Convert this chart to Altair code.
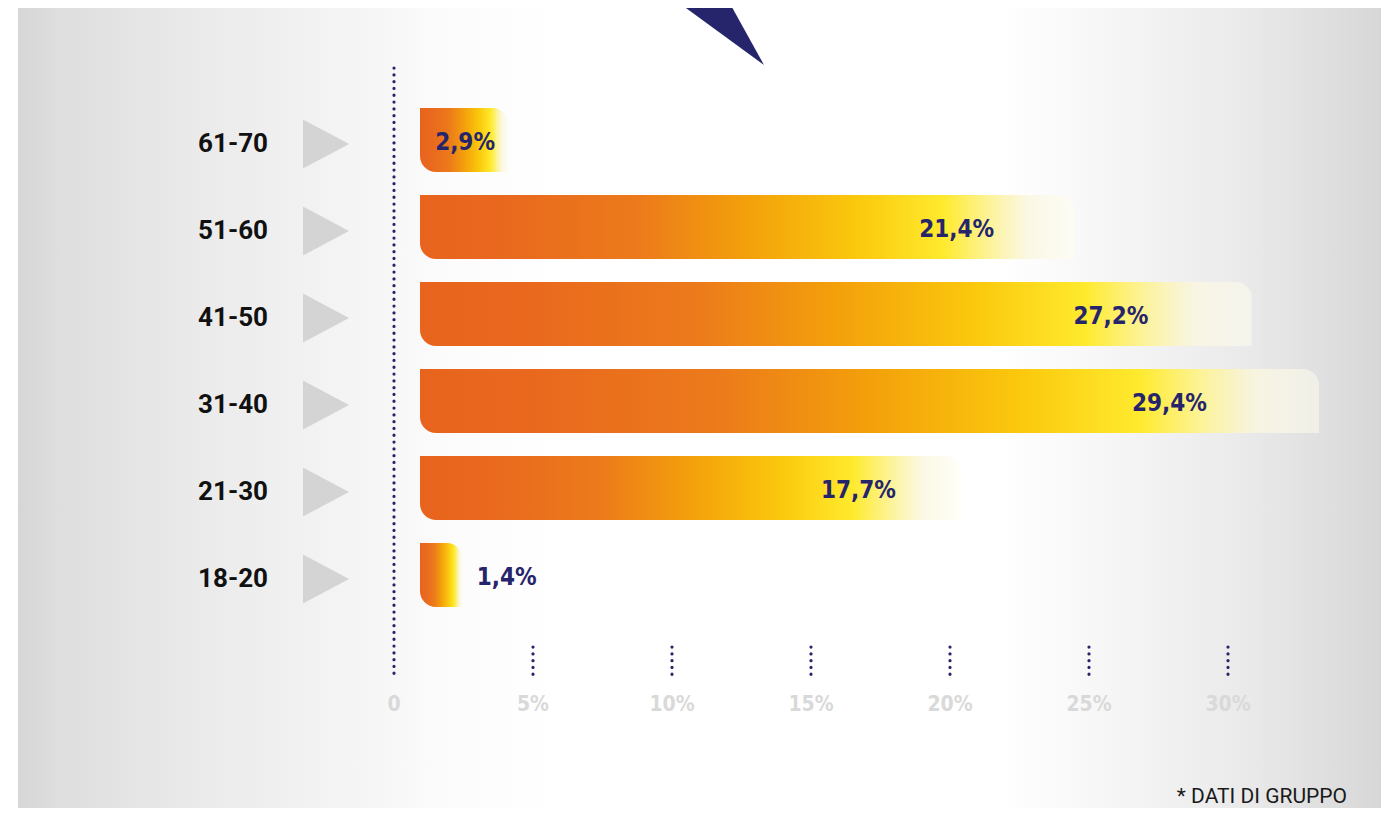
import altair as alt
import pandas as pd

# ---- data ----
categories = ["61-70", "51-60", "41-50", "31-40", "21-30", "18-20"]
shares = [2.9, 21.4, 27.2, 29.4, 17.7, 1.4]
tick_values = [0, 5, 10, 15, 20, 25, 30]
tick_labels = ["0", "5%", "10%", "15%", "20%", "25%", "30%"]
footnote = "* DATI DI GRUPPO"

# ---- layout / style ----
W, H = 1381, 800
PX_PER_UNIT = 27.8
ZERO_PX = 386
x_domain = [-ZERO_PX / PX_PER_UNIT, (W - ZERO_PX) / PX_PER_UNIT]
NAVY = "#26256b"
COND = "Liberation Sans Narrow, DejaVu Sans Condensed, Roboto Condensed, Roboto, sans-serif"

df = pd.DataFrame({"cat": categories, "share": shares})
df["label"] = [f"{v:.1f}".replace(".", ",") + "%" for v in shares]
ticks = pd.DataFrame({"t": tick_values, "lab": tick_labels})
one = pd.DataFrame({"a": [0]})

x_scale = alt.Scale(domain=x_domain, nice=False, zero=False)
y_scale = alt.Scale(domain=categories, range=[88.5, 610.5],
                    paddingInner=0.2644, paddingOuter=0.1322)
Y = alt.Y("cat:N", scale=y_scale, axis=None)


def grad(stops):
    return alt.Gradient(gradient="linear", x1=0, x2=1, y1=0, y2=0,
                        stops=[alt.GradientStop(offset=o, color=c) for o, c in stops])


bg_gradient = grad([(0, "#d6d6d6"), (0.03, "#dedede"), (0.13, "#eaeaea"),
                    (0.24, "#f4f4f4"), (0.32, "#fcfcfc"), (0.4, "#ffffff"),
                    (0.72, "#ffffff"), (0.8, "#f6f6f6"), (0.9, "#eaeaea"),
                    (0.97, "#dddddd"), (1, "#d7d7d7")])

bar_gradient = grad([(0, "#e8641e"), (0.12, "#e9681e"), (0.33, "#ec7a1b"),
                     (0.5, "#f3a00b"), (0.67, "#fbc90d"), (0.8, "#ffea2e"),
                     (0.86, "#fdf28a"), (0.93, "rgba(250,246,222,0.8)"),
                     (1, "rgba(255,253,240,0.5)")])

background = alt.Chart(one).mark_rect(fill=bg_gradient).encode(
    x=alt.value(10), x2=alt.value(1373), y=alt.value(0), y2=alt.value(H))

navy_tri = alt.Chart(one).mark_point(
    shape="M667,-8L720,-8L756,57Z", size=4, filled=True, opacity=1,
    color=NAVY).encode(x=alt.value(0), y=alt.value(0))

zero_line = alt.Chart(pd.DataFrame({"t": [0]})).mark_rule(
    color=NAVY, strokeWidth=3.2, strokeDash=[0.1, 6.7], strokeCap="round").encode(
    x=alt.X("t:Q", scale=x_scale, axis=None), y=alt.value(60), y2=alt.value(670))

tick_dots = alt.Chart(ticks).transform_filter("datum.t > 0").mark_rule(
    color=NAVY, strokeWidth=3.2, strokeDash=[0.1, 6.7], strokeCap="round").encode(
    x=alt.X("t:Q", scale=x_scale, axis=None), y=alt.value(639), y2=alt.value(668))

tick_text = alt.Chart(ticks).mark_text(
    font=COND, fontWeight="bold", fontSize=21, color="#d9d9d9",
    baseline="middle", align="center").encode(
    x=alt.X("t:Q", scale=x_scale, axis=None), y=alt.value(697), text="lab:N")

bars = alt.Chart(df).transform_calculate(
    start="0.935", end="datum.share * 1.1 + 0.935").mark_bar(
    fill=bar_gradient, cornerRadiusTopRight=16, cornerRadiusBottomLeft=16).encode(
    x=alt.X("start:Q", scale=x_scale, axis=None), x2="end:Q", y=Y)

triangles = alt.Chart(df).mark_point(
    shape="M-0.94,-1L0.94,0L-0.94,1Z", size=2401, filled=True, opacity=1,
    color="#d4d4d4", yOffset=4).encode(x=alt.value(318), y=Y)

cat_text = alt.Chart(df).mark_text(
    align="right", baseline="middle", font="Roboto", fontWeight="bold",
    fontSize=26, color="#111111", dy=4).encode(x=alt.value(260), y=Y, text="cat:N")

pct_in = alt.Chart(df).transform_filter("datum.share >= 2").transform_calculate(
    lx="datum.share * 0.956 - 0.216").mark_text(
    align="center", baseline="middle", font=COND, fontWeight="bold",
    fontSize=24, color=NAVY, dy=3).encode(
    x=alt.X("lx:Q", scale=x_scale, axis=None), y=Y, text="label:N")

pct_out = alt.Chart(df).transform_filter("datum.share < 2").transform_calculate(
    lx="datum.share * 1.1 + 0.935").mark_text(
    align="left", baseline="middle", font=COND, fontWeight="bold",
    fontSize=24, color=NAVY, dy=3, dx=14).encode(
    x=alt.X("lx:Q", scale=x_scale, axis=None), y=Y, text="label:N")

foot = alt.Chart(pd.DataFrame({"f": [footnote]})).mark_text(
    align="right", baseline="alphabetic", font="Roboto", fontSize=21,
    color="#1a1a1a").encode(x=alt.value(1339), y=alt.value(795), text="f:N")

chart = alt.layer(background, navy_tri, zero_line, tick_dots, tick_text, bars,
                  triangles, cat_text, pct_in, pct_out, foot).properties(
    width=W, height=H, padding=0, autosize=alt.AutoSizeParams(type="none")
).configure_view(stroke=None)

chart.save("out.html", embed_options={"renderer": "svg", "actions": False})
